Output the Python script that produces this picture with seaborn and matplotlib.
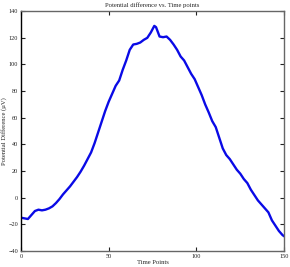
import matplotlib
matplotlib.use("Agg")
import matplotlib.pyplot as plt
import seaborn as sns
import pandas as pd

time_points = [0, 2, 4, 6, 8, 10, 12, 14, 16, 18, 20, 22, 24, 26, 28, 30, 32, 34, 36, 38,
               40, 42, 44, 46, 48, 50, 52, 54, 56, 58, 60, 62, 64, 66, 68, 70, 72, 74, 76,
               77, 79, 81, 83, 85, 87, 89, 91, 93, 95, 97, 99, 101, 103, 105, 107, 109, 111,
               113, 115, 117, 119, 121, 123, 125, 127, 129, 131, 133, 135, 137, 139, 141,
               143, 145, 147, 149, 150]
potential = [-15, -15.5, -16, -13, -10, -9, -9.5, -9, -8, -6.5, -4, -1, 2.5, 5.5, 8.5, 12,
             15.5, 19.5, 24, 29, 34, 41, 49, 57, 65, 72, 78, 84, 88, 96, 103, 111, 115,
             115.5, 116.5, 118.5, 120, 124, 129, 128, 121, 120.5, 121, 118.5, 115, 111, 106,
             103, 98, 93, 89, 83, 77, 70, 64, 57.5, 53, 45, 37, 32, 29, 25, 21, 18, 14, 11,
             6, 2, -2, -5, -8, -11, -17, -21, -25, -28, -29]
x_ticks = [0, 50, 100, 150]
y_ticks = [-40, -20, 0, 20, 40, 60, 80, 100, 120, 140]

df = pd.DataFrame({"t": time_points, "v": potential})

sns.set_style("ticks")
plt.rcParams["font.family"] = ["Liberation Serif", "DejaVu Serif"]

fig, ax = plt.subplots(figsize=(2.90, 2.67), dpi=100)
fig.subplots_adjust(left=0.072, right=0.98, top=0.958, bottom=0.06)

sns.lineplot(data=df, x="t", y="v", ax=ax, color="#0a0ae6", linewidth=1.7)

ax.set_xlim(0, 150)
ax.set_ylim(-40, 140)
ax.set_xticks(x_ticks)
ax.set_yticks(y_ticks)
ax.tick_params(direction="in", length=3, width=0.8, labelsize=4.5, pad=2,
               top=True, right=True, colors="#222222")
ax.set_title("Potential difference vs. Time points", fontsize=4.8, pad=3)
ax.set_xlabel("Time Points", fontsize=4.8, labelpad=1)
ax.set_ylabel("Potential Difference (\u00b5V)", fontsize=4.8, labelpad=1)
for side in ["top", "right", "bottom"]:
    ax.spines[side].set_visible(True)
    ax.spines[side].set_color("#666666")
    ax.spines[side].set_linewidth(1.0)
ax.spines["left"].set_color("black")
ax.spines["left"].set_linewidth(1.0)

fig.savefig("out.png", dpi=100)
